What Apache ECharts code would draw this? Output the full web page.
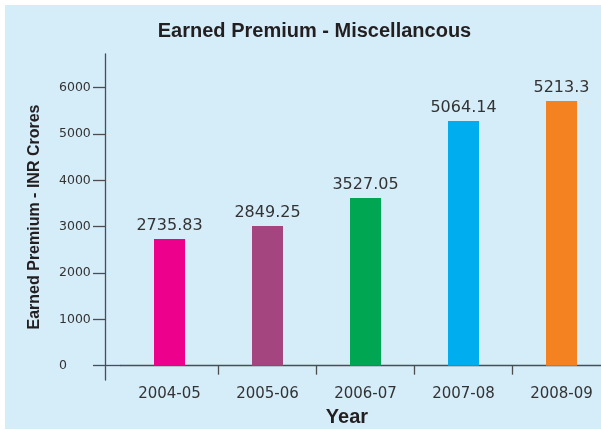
<!DOCTYPE html>
<html>
<head>
<meta charset="utf-8">
<script src="https://cdn.jsdelivr.net/npm/echarts@6/dist/echarts.min.js"></script>
<style>
  html, body { margin: 0; padding: 0; background: #ffffff; }
  #wrap { position: relative; width: 601px; height: 430px; overflow: hidden; }
  #panel { position: absolute; left: 5px; top: 5px; right: 0; bottom: 1px; background: #d5ecf9; }
  #chart { position: absolute; left: 0; top: 0; width: 601px; height: 430px; }
</style>
</head>
<body>
<div id="wrap"><div id="panel"></div><div id="chart"></div></div>
<script>
// ---- data ----
const categories = ['2004-05', '2005-06', '2006-07', '2007-08', '2008-09'];
// bar heights as drawn in the picture (INR Crores)
const barValues = [2735, 3015, 3620, 5280, 5715];
// value labels printed above the bars
const valueLabels = ['2735.83', '2849.25', '3527.05', '5064.14', '5213.3'];
const barColors = ['#ec008c', '#a4457f', '#00a651', '#00aeef', '#f58220'];
const yTicks = [0, 1000, 2000, 3000, 4000, 5000, 6000];
const baseTick = [0];
const titleText = 'Earned Premium - Miscellancous';
const yName = 'Earned Premium - INR Crores';
const xName = 'Year';

const textColor = '#231f20';
const axisColor = '#4d4d4f';
const yMin = -309, yMax = 6728;

const chart = echarts.init(document.getElementById('chart'), null, { renderer: 'canvas' });
chart.setOption({
  backgroundColor: 'transparent',
  animation: false,
  title: {
    text: titleText,
    left: 314.5,
    top: 21,
    padding: 0,
    textAlign: 'center',
    textStyle: { fontFamily: 'Liberation Sans', fontWeight: 'bold', fontSize: 20, color: textColor }
  },
  grid: { left: 120.5, right: -9.5, top: 54, bottom: 50, containLabel: false, outerBoundsMode: 'none' },
  xAxis: {
    type: 'category',
    data: categories,
    boundaryGap: true,
    axisLine: { onZero: true, onZeroAxisIndex: 0, lineStyle: { color: axisColor, width: 1.3 } },
    axisTick: {
      show: true, length: 9, inside: false,
      interval: function (idx) { return idx !== 0; },
      lineStyle: { color: axisColor, width: 1.3 }
    },
    axisLabel: {
      interval: 0, margin: 7,
      fontFamily: 'DejaVu Sans', fontSize: 15, color: '#333333'
    },
    name: xName,
    nameLocation: 'middle',
    nameGap: 27,
    nameMoveOverlap: false,
    nameTextStyle: {
      fontFamily: 'Liberation Sans', fontWeight: 'bold', fontSize: 20, color: textColor,
      padding: [0, 37, 0, 0]
    },
    splitLine: { show: false }
  },
  yAxis: [{
    type: 'value',
    position: 'left',
    min: yMin,
    max: yMax,
    splitNumber: 7,
    offset: 15.5,
    axisLine: { show: true, onZero: false, lineStyle: { color: axisColor, width: 1.3 } },
    axisTick: {
      show: true, length: 12, inside: false,
      customValues: yTicks,
      lineStyle: { color: axisColor, width: 1.3 }
    },
    axisLabel: {
      customValues: yTicks,
      formatter: function (v) { return String(v); },
      align: 'left', margin: 46,
      fontFamily: 'DejaVu Sans', fontSize: 12.5, color: '#333333'
    },
    splitLine: { show: false },
    name: yName,
    nameLocation: 'middle',
    nameGap: 62,
    nameMoveOverlap: false,
    nameTextStyle: { fontFamily: 'Liberation Sans', fontWeight: 'bold', fontSize: 16, color: textColor }
  }, {
    // helper axis: continues the zero baseline from the y-axis line into the grid
    type: 'value',
    position: 'left',
    min: yMin,
    max: yMax,
    splitNumber: 7,
    offset: 15.5,
    axisLine: { show: false, onZero: false },
    axisTick: {
      show: true, length: 16, inside: true,
      customValues: baseTick,
      lineStyle: { color: axisColor, width: 1.3 }
    },
    axisLabel: { show: false },
    splitLine: { show: false }
  }],
  series: [{
    type: 'bar',
    yAxisIndex: 0,
    barWidth: 31,
    clip: false,
    data: barValues.map(function (v, i) {
      return { value: v, itemStyle: { color: barColors[i] } };
    }),
    label: {
      show: true,
      position: 'top',
      distance: 5,
      fontFamily: 'DejaVu Sans',
      fontSize: 16,
      color: '#333333',
      formatter: function (p) { return valueLabels[p.dataIndex]; }
    }
  }]
});
</script>
</body>
</html>
